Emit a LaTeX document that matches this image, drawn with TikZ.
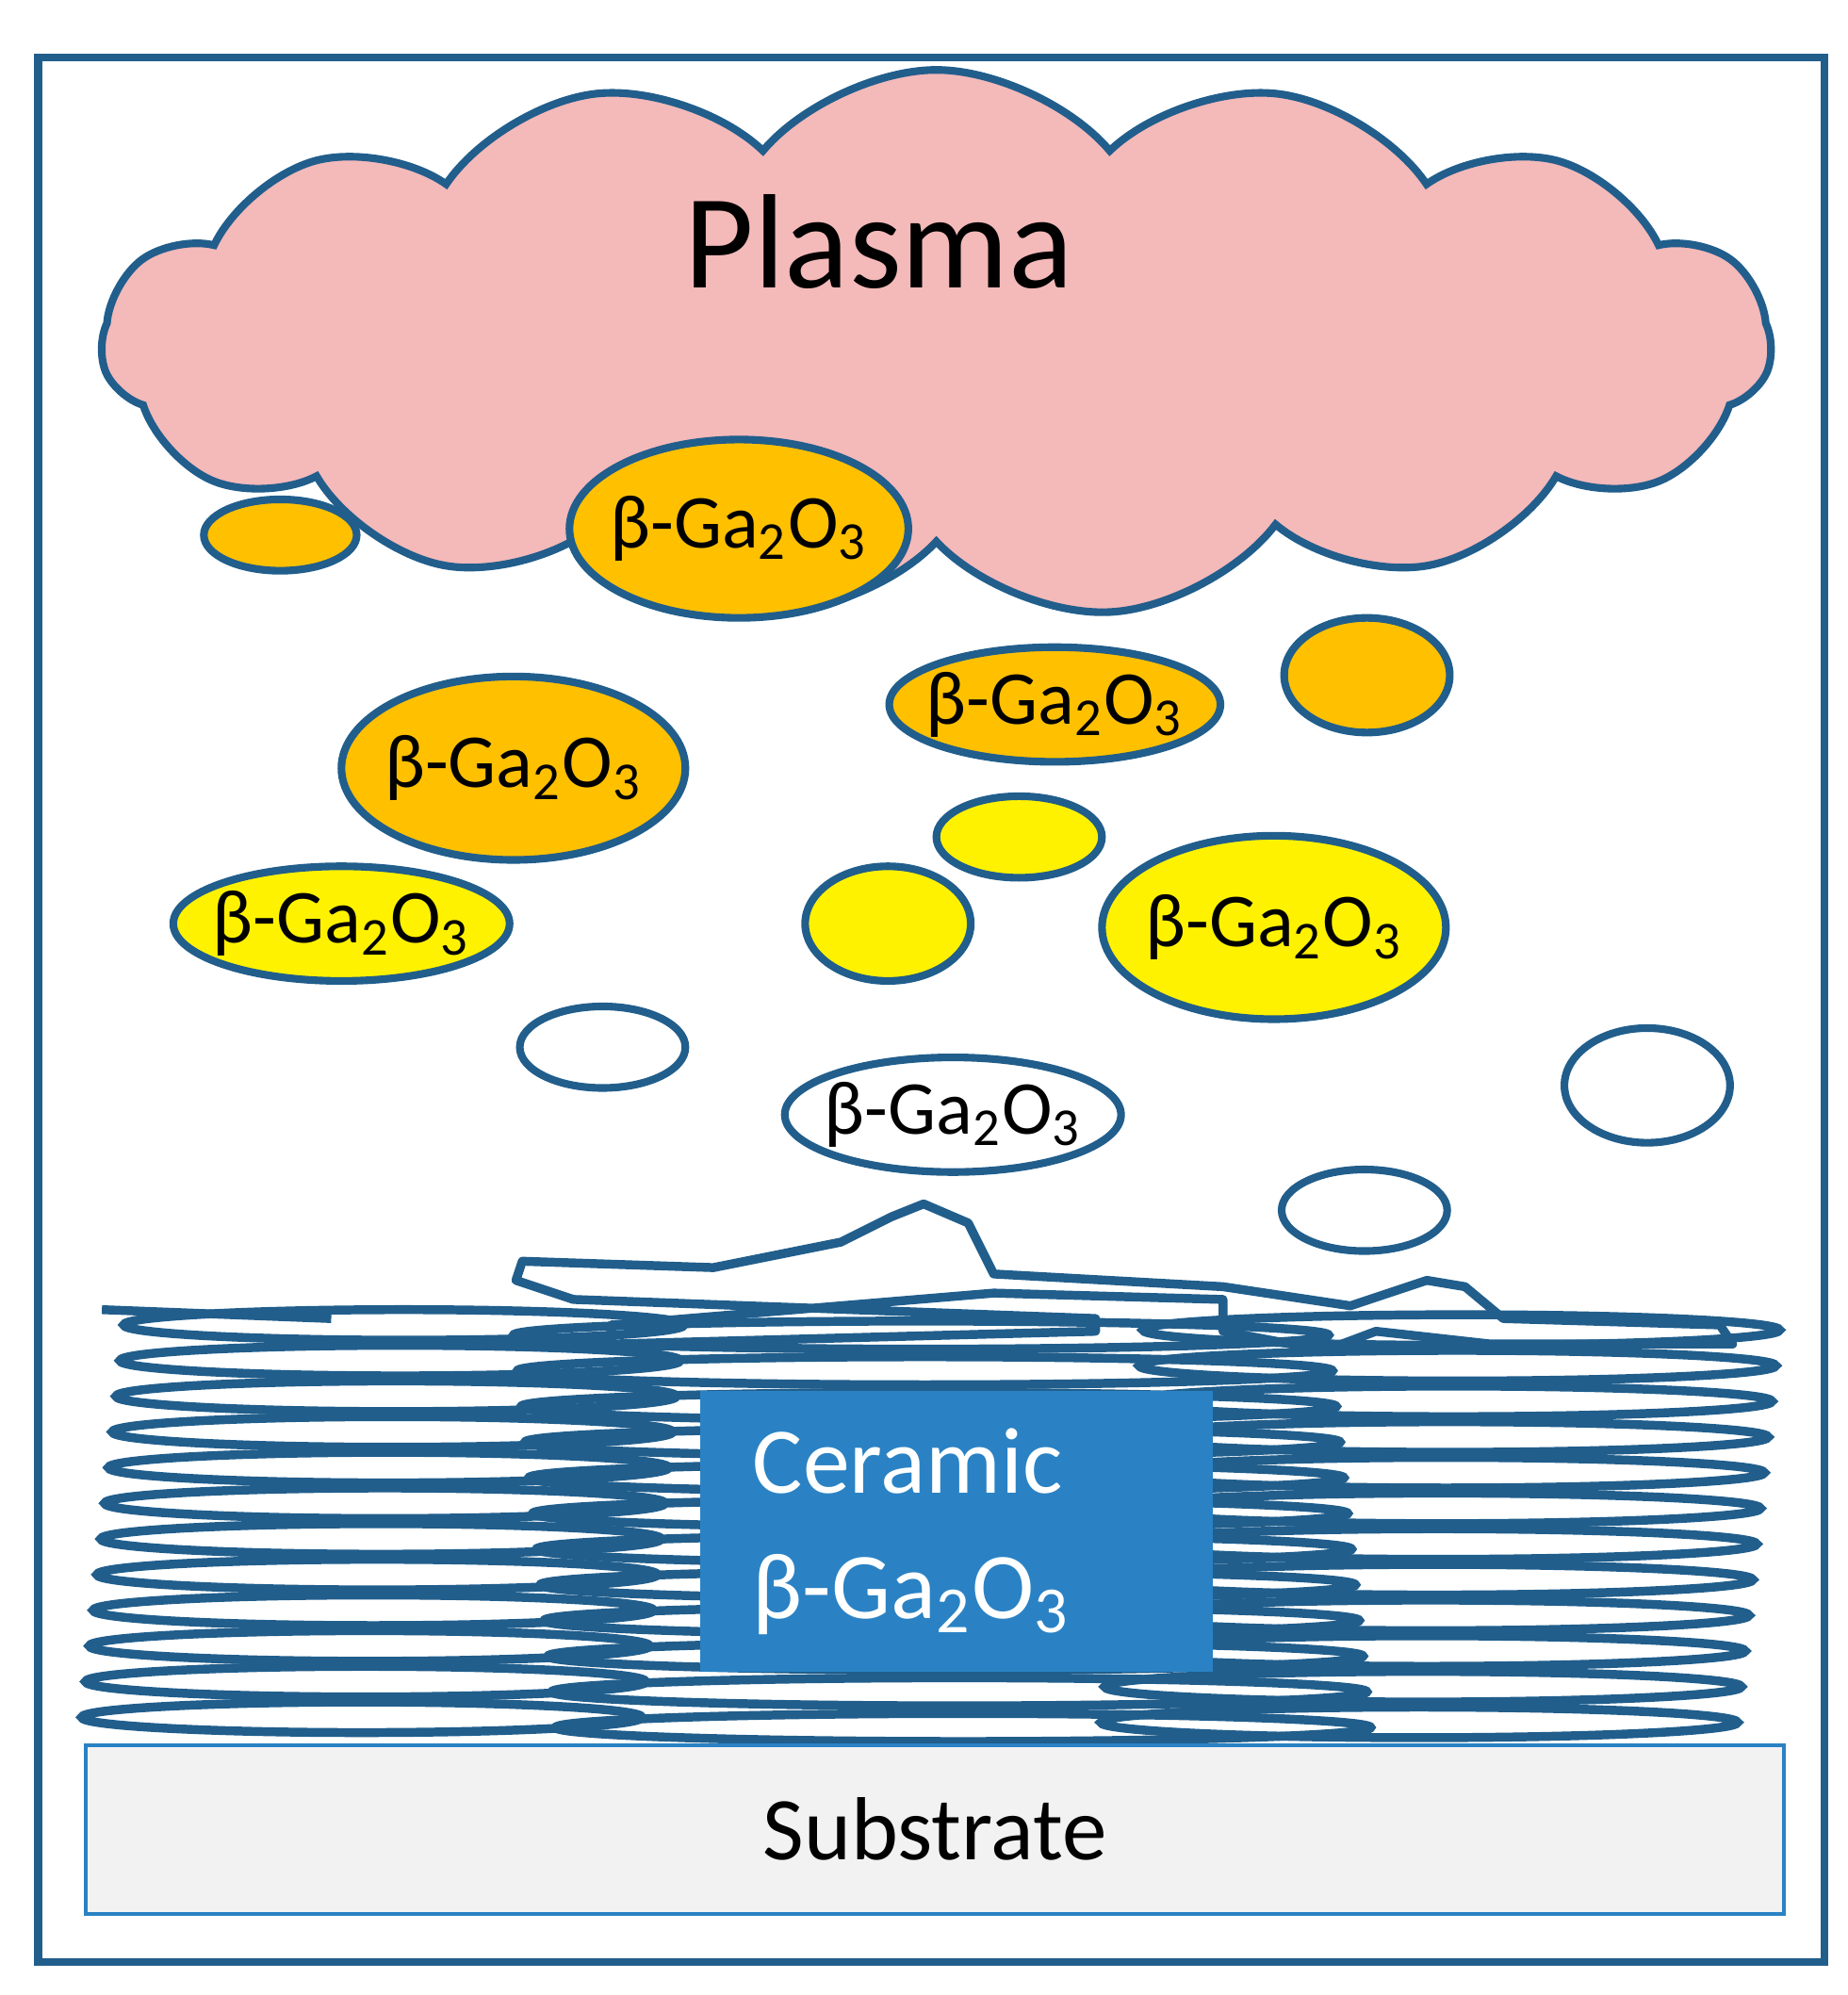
\documentclass[tikz,border=0pt]{standalone}
\usepackage{fontspec}
\setmainfont{Carlito}
\usetikzlibrary{shapes.symbols}
\definecolor{edge}{HTML}{215E8C}
\definecolor{pinkfill}{HTML}{F4B9B9}
\definecolor{orangefill}{HTML}{FFC000}
\definecolor{ceramic}{HTML}{2A82C4}
\begin{document}
\begin{tikzpicture}[
    x=0.01cm, y=-0.01cm,
    grain/.style={draw=edge, line width=0.06cm},
    layer/.style={draw=edge, line width=0.07cm},
    lbl/.style={font=\fontsize{17}{20}\selectfont}
  ]
  \useasboundingbox (0,0) rectangle (1450,1566);
  \draw[edge, line width=0.06cm] (30,45) rectangle (1432,1540);

  % grain hidden behind the cloud
  \draw[grain, fill=orangefill] (220,420) ellipse [x radius=60, y radius=28];

  % plasma cloud
  \node[cloud, cloud puffs=15, cloud puff arc=100, aspect=3.2,
        minimum width=13.1cm, minimum height=4.3cm,
        draw=edge, line width=0.06cm, fill=pinkfill] (plasma) at (735,270) {};
  \node[font=\fontsize{30}{34}\selectfont] (plasmatext) at (690,190) {Plasma};

  % grains
  \foreach \cx/\cy/\rx/\ry/\col/\txt [count=\i] in {
      580/415/133/70/orangefill/1, 828/553/130/45/orangefill/1,
      1073/530/65/45/orangefill/0, 403/603/135/72/orangefill/1,
      800/657/65/32/yellow/0, 268/725/132/45/yellow/1,
      697/725/65/45/yellow/0, 1000/728/135/72/yellow/1,
      473/822/65/32/white/0, 748/875/132/45/white/1,
      1293/852/65/45/white/0, 1071/950/65/32/white/0} {
    \draw[grain, fill=\col] (\cx,\cy) ellipse [x radius=\rx, y radius=\ry];
    \ifnum\txt=1
      \node[lbl] (g\i) at (\cx,\cy) {β-Ga\textsubscript{2}O\textsubscript{3}};
    \fi
  }

  % film layers
  \foreach \y [count=\k] in {1040,1068,1096,1124,1152,1180,1208,1236,1264,1292,1320,1348} {
    \pgfmathsetmacro{\dx}{mod(\k*37,40)-20}
    \draw[layer] (300+\dx,\y) ellipse [x radius=220, y radius=12];
    \draw[layer] (740-\dx,\y+8) ellipse [x radius=320, y radius=11];
    \draw[layer] (1130+\dx,\y+4) ellipse [x radius=250, y radius=12];
  }
  % rough top surface
  \draw[layer, line join=round] (410,990) -- (560,995) -- (660,975) -- (700,955)
    -- (725,945) -- (760,960) -- (780,1000) -- (960,1010) -- (1060,1025)
    -- (1120,1005) -- (1150,1010) -- (1180,1035) -- (1350,1040) -- (1360,1055)
    -- (1170,1055) -- (1080,1045) -- (1040,1060) -- (960,1045) -- (960,1020)
    -- (780,1015) -- (480,1040) -- (480,1055) -- (860,1045) -- (860,1035)
    -- (450,1020) -- (405,1005) -- cycle;
  \draw[layer] (260,1035) -- (80,1028);

  % ceramic target
  \node[fill=ceramic, minimum width=4.02cm, minimum height=2.2cm,
        text=white, align=left, font=\fontsize{21}{28}\selectfont,
        inner sep=0pt, text width=3.2cm] (ceramicbox) at (751,1202)
        {Ceramic\\β-Ga\textsubscript{2}O\textsubscript{3}};

  % substrate
  \node[draw=ceramic, line width=0.03cm, fill=gray!10,
        minimum width=13.32cm, minimum height=1.32cm,
        font=\fontsize{20}{24}\selectfont] (substrate) at (734,1436) {Substrate};
\end{tikzpicture}
\end{document}
